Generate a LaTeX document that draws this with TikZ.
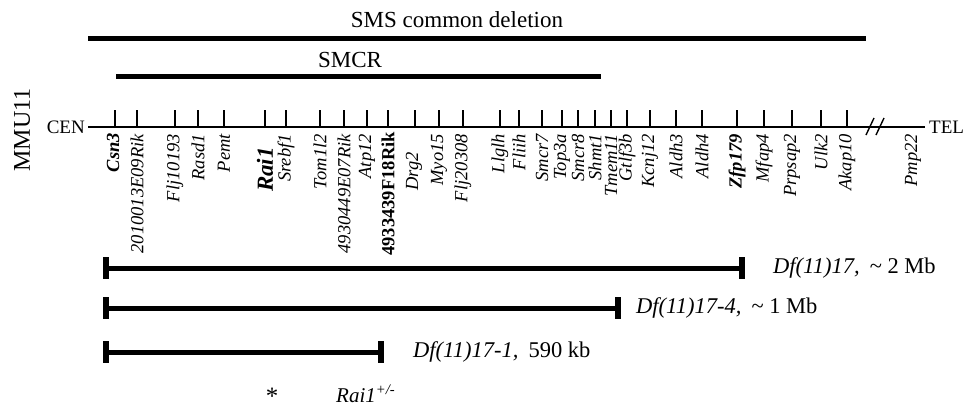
\documentclass[tikz,border=0pt]{standalone}
\usepackage{fontspec}
\setmainfont{Liberation Serif}
\usetikzlibrary{arrows.meta,positioning}
\tikzset{
  region/.style={line width=5pt},
  delbar/.style={line width=5pt,{Rectangle[width=22pt,length=6pt]}-{Rectangle[width=22pt,length=6pt]}},
  axis/.style={line width=1.4pt},
  gene/.style={rotate=90,anchor=east,inner sep=0pt,font=\fontsize{18.5}{20}\selectfont\itshape},
  keygene/.style={gene,font=\fontsize{18.5}{20}\selectfont\bfseries\itshape},
  ends/.style={inner sep=0pt,font=\fontsize{19}{21}\selectfont},
  dflabel/.style={inner sep=0pt,font=\fontsize{22.5}{25}\selectfont},
  title/.style={inner sep=0pt,anchor=base,font=\fontsize{23}{26}\selectfont}
}

\begin{document}
\begin{tikzpicture}[x=1pt,y=-1pt]
  \useasboundingbox (0,0) rectangle (966,408);

  % critical regions
  \node[title] (sms) at (457,27) {SMS common deletion};
  \draw[region] (88,38) coordinate (smsl) -- (866,38) coordinate (smsr);
  \node[title] (smcr) at (350,67) {SMCR};
  \draw[region] (116,76) coordinate (smcrl) -- (601,76) coordinate (smcrr);

  % chromosome axis
  \node[rotate=90,inner sep=0pt,font=\fontsize{24}{26}\selectfont] (mmu) at (22,130) {MMU11};
  \node[ends,anchor=east] (cen) at (85,127) {CEN};
  \node[ends,anchor=west] (tel) at (929,127) {TEL};
  \draw[axis] ([xshift=3pt]cen.east) -- ([xshift=-4pt]tel.west);
  \coordinate (brk) at (875,127);
  \draw[axis] ([shift={(-9,8)}]brk) -- ([shift={(-1,-9)}]brk);
  \draw[axis] ([shift={(1,8)}]brk) -- ([shift={(9,-9)}]brk);

  % genes
  \foreach \gx/\gname [count=\i] in {137/2010013E09Rik,175/Flj10193,198/Rasd1,224/Pemt,
      286/Srebf1,320/Tom1l2,344/4930449E07Rik,367/Atp12,439/Myo15,463/Flj20308,
      500/Llglh,519/Fliih,542/Smcr7,562/Top3a,578/Smcr8,595/Shmt1,611/Tmem11,
      627/Gtlf3b,650/Kcnj12,676/Aldh3,702/Aldh4,764/Mfap4,792/Prpsap2,821/Ulk2,847/Akap10}
  {
    \draw[axis] (\gx,110) -- (\gx,127);
    \node[gene] (g\i) at (\gx,134) {\gname};
  }
  \draw[axis] (115,110) -- (115,127);
  \node[keygene] (csn) at (113,133) {Csn3};
  \draw[axis] (265,110) -- (265,127);
  \node[keygene,font=\fontsize{23}{25}\selectfont\bfseries\itshape] (rai) at (265,147) {Rai1};
  \draw[axis] (388,110) -- (388,127);
  \node[gene,font=\fontsize{18.5}{20}\selectfont\bfseries] (rik) at (388,132) {4933439F18Rik};
  \draw[axis] (415,110) -- (415,127);
  \node[gene] (drg) at (414,152) {Drg2};
  \draw[axis] (737,110) -- (737,127);
  \node[keygene] (zfp) at (737,134) {Zfp179};
  \node[gene] (pmp) at (913,134) {Pmp22};

  % deletions
  \draw[delbar] (103,268) coordinate (d1l) -- (745,268) coordinate (d1r);
  \node[dflabel,right=28pt of d1r] (df1) {\textit{Df(11)17,}\hspace{0.45em}\textasciitilde{} 2 Mb};
  \draw[delbar] (103,308) coordinate (d2l) -- (621,308) coordinate (d2r);
  \node[dflabel,right=15pt of d2r] (df2) {\textit{Df(11)17-4,}\hspace{0.45em}\textasciitilde{} 1 Mb};
  \draw[delbar] (103,352) coordinate (d3l) -- (384,352) coordinate (d3r);
  \node[dflabel,right=29pt of d3r] (df3) {\textit{Df(11)17-1,}\hspace{0.45em}590 kb};

  % knockout
  \node[inner sep=0pt,font=\fontsize{25}{27}\selectfont] (star) at (272,396) {*};
  \node[dflabel,anchor=base west,font=\fontsize{21}{23}\selectfont\itshape] (rko) at (336,402) {Rai1\textsuperscript{+/-}};
\end{tikzpicture}
\end{document}
